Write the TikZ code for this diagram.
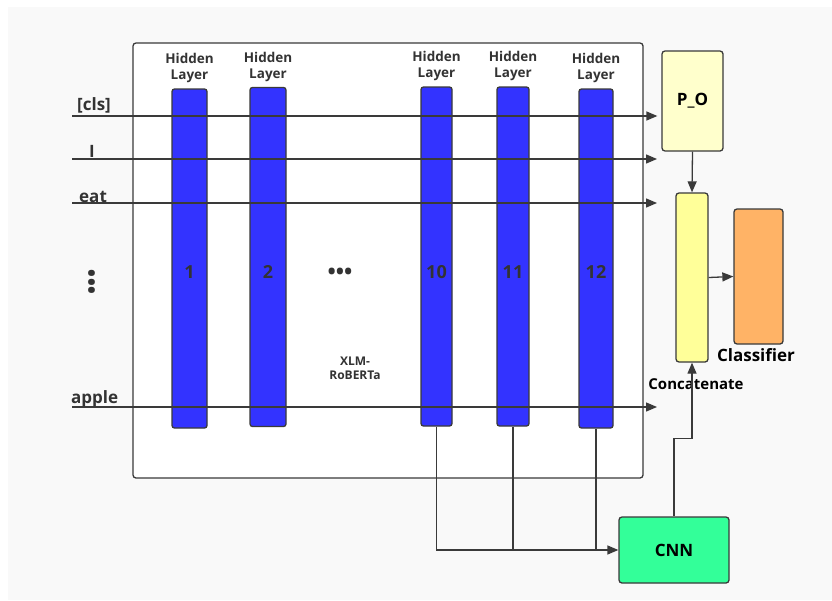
\documentclass[tikz,border=0pt]{standalone}
\usepackage{fontspec}
\setmainfont{Open Sans}
\usepackage{xcolor}
\usetikzlibrary{arrows.meta,positioning}
\definecolor{bggray}{HTML}{F9F9F9}
\definecolor{edge}{HTML}{3A3A3A}
\definecolor{txtgray}{HTML}{333333}
\definecolor{barblue}{HTML}{3333FF}
\definecolor{pofill}{HTML}{FFFFCC}
\definecolor{catfill}{HTML}{FFFF99}
\definecolor{clsfill}{HTML}{FFB366}
\definecolor{cnnfill}{HTML}{33FF99}

\begin{document}
\begin{tikzpicture}[x=1pt,y=-1pt,>={Triangle[length=11pt,width=9pt]},
  bar/.style={draw=edge,fill=barblue,rounded corners=2.5pt,line width=1.3pt,inner sep=0pt,minimum height=339},
  box/.style={draw=edge,rounded corners=3pt,line width=1.3pt,inner sep=0pt},
  hid/.style={font=\bfseries\fontsize{13.5}{16}\selectfont,text=txtgray,align=center,inner sep=1pt},
  num/.style={font=\bfseries\fontsize{18}{20}\selectfont,text=txtgray},
  tok/.style={font=\bfseries\fontsize{17}{19}\selectfont,text=txtgray,anchor=base west,inner sep=0pt},
  conn/.style={draw=edge,line width=1.3pt}]
  \useasboundingbox (0,0) rectangle (832,600);
  \fill[bggray] (8,7) rectangle (832,600);
  \node[box,fill=white,minimum width=510,minimum height=435] (xlm) at (388,260.5) {};
  % the twelve layers (only five drawn)
  \foreach \n/\x/\w/\yc in {1/189.5/35/258.5,2/268/36/257,10/436.5/31/256.5,11/513/32/256.5,12/596/34/258.5} {
    \node[bar,minimum width=\w] (b\n) at (\x,\yc) {};
    \node[num] (n\n) at (\x,272) {\n};
    \node[hid,above=4pt of b\n] (h\n) {Hidden\\Layer};
  }
  \node[num,font=\bfseries\fontsize{22}{24}\selectfont] (dots) at (340,274) {•••};
  \node[font=\bfseries\fontsize{12}{14}\selectfont,text=txtgray,align=center] (name) at (355,368) {XLM-\\RoBERTa};
  % heads
  \node[box,fill=pofill,minimum width=61,minimum height=100,font=\bfseries\fontsize{17}{19}\selectfont] (po) at (692.5,101) {P\_O};
  \node[box,fill=catfill,minimum width=32,minimum height=169] (cat) at (692,277.5) {};
  \node[box,fill=clsfill,minimum width=49,minimum height=135] (clf) at (758.5,276.5) {};
  \node[box,fill=cnnfill,minimum width=110,minimum height=66,font=\bfseries\fontsize{17}{19}\selectfont] (cnn) at (674,550) {CNN};
  \node[font=\bfseries\fontsize{17}{19}\selectfont] (clflab) at (756,355) {Classifier};
  \node[font=\bfseries\fontsize{15}{17}\selectfont] (catlab) at (696,384) {Concatenate};
  % tokens
  \node[tok] (wcls) at (77,110) {[cls]};
  \node[tok] (wi) at (89,157) {I};
  \node[tok] (weat) at (79,202) {eat};
  \node[tok] (wapple) at (71,403) {apple};
  \node[font=\bfseries\fontsize{22}{24}\selectfont,text=txtgray,rotate=90] (vdots) at (94,282) {•••};
  \coordinate (scls) at (72,116);
  \coordinate (si) at (72,159);
  \coordinate (seat) at (72,203);
  \coordinate (sapple) at (72,407);
  \coordinate (ei) at (657,159);
  \coordinate (eeat) at (657,203);
  \coordinate (eapple) at (657,407);
  \draw[conn,->,shorten >=4pt] (scls) -- (scls -| po.west);
  \draw[conn,->] (si) -- (ei);
  \draw[conn,->] (seat) -- (eeat);
  \draw[conn,->] (sapple) -- (eapple);
  % last three layers into the CNN
  \draw[conn,->] (b10.south) |- (cnn.west);
  \draw[conn] (b11.south) -- (b11.south |- cnn.west);
  \draw[conn] (b12.south) -- (b12.south |- cnn.west);
  \draw[conn,->] (cnn.north) -- ++(0,-78) -| (cat.south);
  \draw[conn,->] (po.south) -- (cat.north);
  \draw[conn,->] (cat.east) -- (clf.west);
\end{tikzpicture}
\end{document}
